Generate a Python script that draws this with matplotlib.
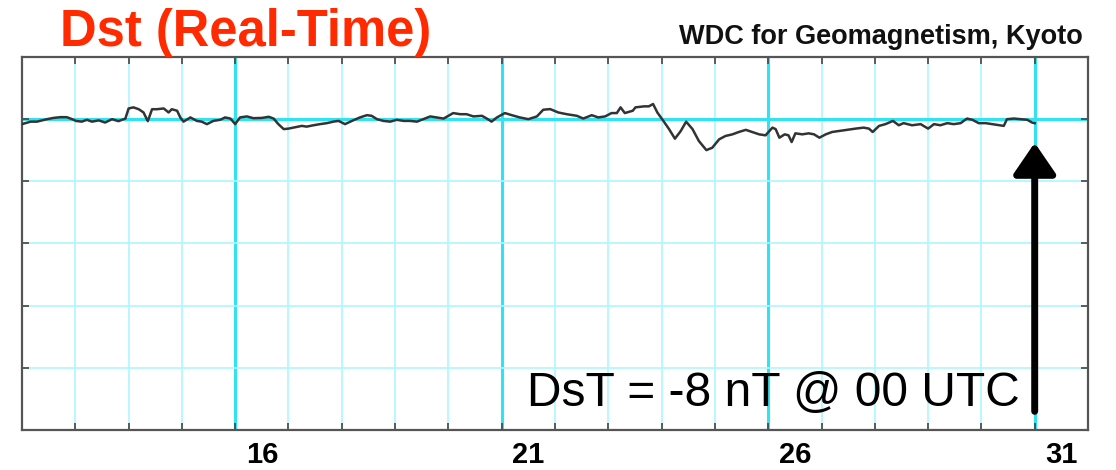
import matplotlib
matplotlib.use("Agg")
import matplotlib.pyplot as plt
from matplotlib import font_manager
import numpy as np

# ---- data ----
days = [12.00, 12.16, 12.28, 12.47, 12.59, 12.72, 12.84, 12.94, 13.01, 13.12, 13.22, 13.31,
        13.44, 13.56, 13.69, 13.81, 13.94, 14.00, 14.09, 14.19, 14.28, 14.36, 14.44, 14.53,
        14.66, 14.75, 14.81, 14.91, 14.97, 15.03, 15.16, 15.28, 15.37, 15.47, 15.59, 15.72,
        15.81, 15.91, 16.00, 16.09, 16.22, 16.34, 16.50, 16.63, 16.72, 16.81, 16.91, 17.00,
        17.13, 17.25, 17.34, 17.47, 17.59, 17.72, 17.84, 17.94, 18.06, 18.19, 18.34, 18.47,
        18.56, 18.66, 18.78, 18.91, 19.03, 19.16, 19.28, 19.41, 19.53, 19.66, 19.78, 19.91,
        20.09, 20.22, 20.34, 20.47, 20.63, 20.72, 20.81, 20.91, 21.06, 21.19, 21.34, 21.50,
        21.66, 21.78, 21.91, 22.06, 22.22, 22.41, 22.53, 22.69, 22.81, 22.94, 23.06, 23.16,
        23.23, 23.31, 23.46, 23.51, 23.67, 23.76, 23.84, 23.92, 24.01, 24.14, 24.25, 24.36,
        24.46, 24.58, 24.70, 24.84, 24.95, 25.08, 25.20, 25.33, 25.45, 25.58, 25.70, 25.83,
        25.95, 26.08, 26.14, 26.21, 26.31, 26.38, 26.44, 26.51, 26.64, 26.76, 26.86, 26.96,
        27.08, 27.20, 27.33, 27.48, 27.64, 27.79, 27.89, 27.96, 28.08, 28.20, 28.34, 28.45,
        28.54, 28.70, 28.86, 29.00, 29.11, 29.23, 29.36, 29.48, 29.61, 29.73, 29.83, 29.95,
        30.08, 30.20, 30.33, 30.42, 30.48, 30.61, 30.73, 30.86, 30.95, 31.00]
dst = [-4, -2, -2, 0, 1, 1.6, 1.6, 0, -1.4, -2, -0.5, -2,
       -1, -2.7, 0, -1.6, 0.5, 8.6, 9.5, 8, 5.4, -1.6, 8, 8,
       8.6, 5.4, 8, 6.8, 1.4, -2, 1.4, -1.4, -2, -4, -1.4, -0.5,
       1.4, 0.5, -4, 1.4, 2.2, 0.8, 1, 1.9, 0.5, -4, -8, -7.6,
       -6.5, -5.4, -6, -4.9, -4, -3.2, -2, -1.4, -4, -1.4, 1.4, 3.2,
       2.7, 0, -1.4, -2, -0.5, -1.4, -1.4, -2, 0, 2.2, 1.4, 0.5,
       4.9, 4, 4, 2.2, 2.7, 0.5, -2, 1.4, 4.9, 3.2, 1.4, 0,
       2.2, 7.6, 8.1, 5.4, 4, 2.7, 0.5, 3.2, 1.4, 2.2, 4.9, 4.9,
       9.5, 4.9, 6.8, 9.5, 10.3, 10.3, 12.2, 5.4, 0, -8, -15.7, -9.5,
       -2, -8, -17.6, -24.9, -23, -16.2, -13.5, -12.2, -10.3, -8.6, -10.3, -12.2,
       -13, -6.8, -8, -14.9, -12.2, -13, -18.4, -11.4, -12.2, -11.4, -12.2, -14.9,
       -12.2, -10.3, -9.5, -8.6, -7.6, -6.8, -7.6, -10.3, -5.4, -4, -1.4, -4.9,
       -3.2, -4.9, -4, -7.6, -4, -4.9, -3.2, -4, -3.2, 0.5, -0.5, -3.2,
       -3.2, -4, -4.9, -5.4, 0, 0.5, 0, -0.5, -2.7, -3.2]

x_labels = ["16", "21", "26", "31"]
x_label_days = [16, 21, 26, 31]
day_start, day_end = 12, 32
y_min, y_max, y_step = -250, 50, 50
arrow_base = -235
arrow_tip = -19
title = "Dst (Real-Time)"
source = "WDC for Geomagnetism, Kyoto"
note = "DsT = -8 nT @ 00 UTC"

installed = {f.name for f in font_manager.fontManager.ttflist}
note_family = "Liberation Sans Narrow" if "Liberation Sans Narrow" in installed else "Liberation Sans"
note_size = 39 if note_family == "Liberation Sans Narrow" else 34.5

# ---- figure ----
W, H = 1116, 470
fig = plt.figure(figsize=(W / 100, H / 100), dpi=100)
ax = fig.add_axes([22 / W, 1 - 430 / H, 1066 / W, 373 / H])

thin_c = "#aef6ff"
thick_c = "#2fe3f2"
for d in range(day_start, day_end + 1):
    thick = d in x_label_days
    ax.axvline(d, color=thick_c if thick else thin_c, lw=2.2 if thick else 1.2, zorder=1)
for v in range(y_min, y_max + 1, y_step):
    ax.axhline(v, color=thick_c if v == 0 else thin_c, lw=2.2 if v == 0 else 1.2, zorder=1)

ax.plot(days, dst, color="#333333", lw=1.8, zorder=3)

ax.set_xlim(day_start, day_end)
ax.set_ylim(y_min, y_max)

ax.set_xticks(range(day_start, day_end + 1))
ax.set_xticklabels([])
ax.set_yticks(range(y_min, y_max + 1, y_step))
ax.set_yticklabels([])
ax.tick_params(which="major", direction="in", length=5, width=1.2, color="#444444",
               top=True, right=True, left=True, bottom=True)
ax.set_xticks([d + 0.5 for d in x_label_days], x_labels, minor=True)
ax.tick_params(which="minor", length=0, labelsize=21, pad=8)
for lab in ax.get_xticklabels(minor=True):
    lab.set_fontweight("bold")
    lab.set_fontfamily("Liberation Sans")

for s in ax.spines.values():
    s.set_color("#555555")
    s.set_linewidth(1.6)

# arrow
ax.annotate("", xy=(days[-1], arrow_tip), xytext=(days[-1], arrow_base),
            arrowprops=dict(arrowstyle="-|>,head_width=0.65,head_length=0.95",
                            mutation_scale=20, color="black", lw=5,
                            shrinkA=0, shrinkB=0), zorder=5)

fig.text(60 / W, 1 - 46 / H, title, color="#ff2a00", fontsize=36.5, fontweight="bold",
         family="Liberation Sans", ha="left", va="baseline")
fig.text(1083 / W, 1 - 44 / H, source, color="#111111", fontsize=19.5, fontweight="bold",
         family="Liberation Sans", ha="right", va="baseline")
fig.text(1020 / W, 1 - 406 / H, note, color="black", fontsize=note_size,
         family=note_family, ha="right", va="baseline")

fig.savefig("out.png", dpi=100)
